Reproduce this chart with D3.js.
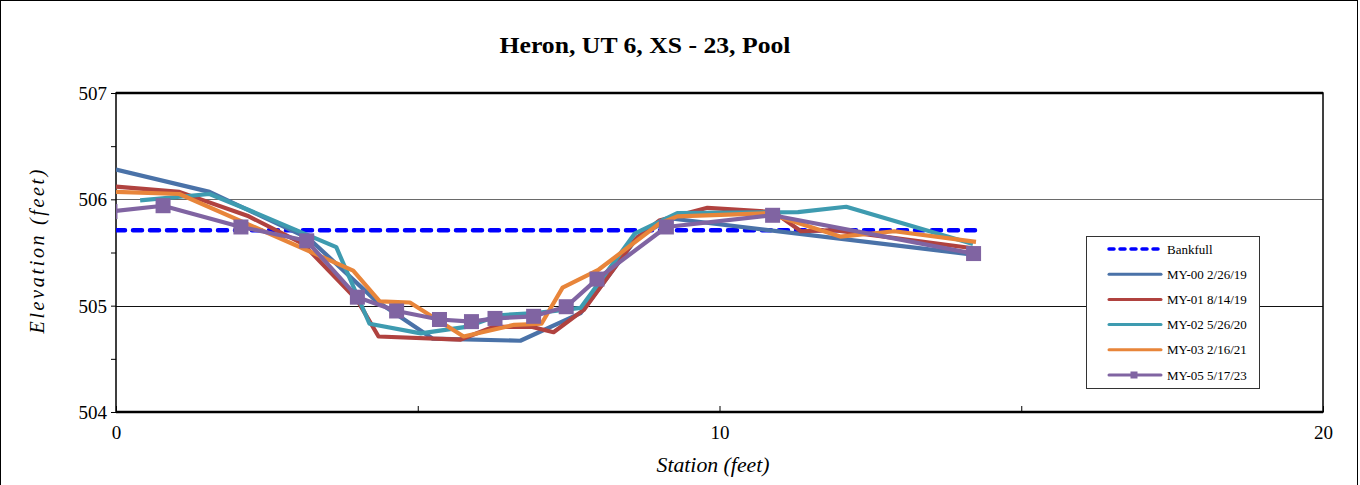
<!DOCTYPE html>
<html>
<head>
<meta charset="utf-8">
<script src="https://cdn.jsdelivr.net/npm/d3@7"></script>
<style>
  html, body { margin: 0; padding: 0; background: #fff; }
  svg { display: block; font-family: "Liberation Serif", "Times New Roman", serif; }
  svg text { font-family: "Liberation Serif", "Times New Roman", serif; }
</style>
</head>
<body>
<svg id="chart" width="1360" height="485"></svg>
<script>
// Cross-section survey: station (ft) vs elevation (ft)
const chartTitle = "Heron, UT 6, XS - 23, Pool";

const bankfullStation = [0, 14.25];
const bankfullElev = [505.71, 505.71];

const my00Station = [0, 1.55, 3.2, 4.3, 5.25, 6.7, 7.7, 8.65, 9.2, 14.2];
const my00Elev = [506.28, 506.07, 505.63, 505.05, 504.69, 504.67, 504.93, 505.65, 505.82, 505.48];

const my01Station = [0, 1.05, 2.2, 3.1, 4.0, 4.35, 5.7, 6.25, 6.9, 7.25, 7.75, 8.6, 9.0, 9.8, 10.9, 11.35, 11.9, 14.2];
const my01Elev = [506.12, 506.07, 505.84, 505.58, 505.05, 504.71, 504.68, 504.80, 504.80, 504.75, 504.96, 505.62, 505.80, 505.92, 505.88, 505.70, 505.71, 505.54];

const my02Station = [0.4, 1.55, 2.2, 3.65, 4.2, 5.05, 5.8, 6.35, 6.95, 7.7, 8.6, 9.3, 11.3, 12.1, 14.2];
const my02Elev = [505.99, 506.05, 505.90, 505.55, 504.83, 504.74, 504.80, 504.91, 504.93, 504.98, 505.68, 505.87, 505.88, 505.93, 505.58];

const my03Station = [0, 1.05, 3.93, 4.37, 4.87, 5.76, 6.6, 7.05, 7.4, 8.0, 9.0, 9.3, 10.8, 12.0, 12.9, 14.25];
const my03Elev = [506.07, 506.05, 505.33, 505.04, 505.03, 504.71, 504.82, 504.83, 505.17, 505.34, 505.77, 505.84, 505.87, 505.65, 505.70, 505.60];

const my05Station = [-0.1, 0.78, 2.07, 3.16, 4.0, 4.65, 5.36, 5.89, 6.28, 6.92, 7.46, 7.97, 9.12, 10.88, 14.21];
const my05Elev = [505.885, 505.94, 505.74, 505.61, 505.08, 504.95, 504.87, 504.85, 504.88, 504.90, 504.99, 505.25, 505.74, 505.85, 505.49];

const seriesNames = ["Bankfull", "MY-00 2/26/19", "MY-01 8/14/19", "MY-02 5/26/20", "MY-03 2/16/21", "MY-05 5/17/23"];
const seriesColors = ["#0000FF", "#4A72A8", "#B0423F", "#3E9BB0", "#E8853A", "#8064A2"];

const xTickValues = [0, 5, 10, 15, 20];
const xTickLabels = ["0", "", "10", "", "20"];
const yTickValues = [504, 505, 506, 507];
const yMinorTicks = [504, 504.5, 505, 505.5, 506, 506.5, 507];
const xAxisTitle = "Station (feet)";
const yAxisTitle = "Elevation (feet)";

const toPoints = (xs, ys) => xs.map((x, i) => ({ x, y: ys[i] }));
const series = [
  { name: seriesNames[0], color: seriesColors[0], pts: toPoints(bankfullStation, bankfullElev), dashed: true },
  { name: seriesNames[1], color: seriesColors[1], pts: toPoints(my00Station, my00Elev) },
  { name: seriesNames[2], color: seriesColors[2], pts: toPoints(my01Station, my01Elev) },
  { name: seriesNames[3], color: seriesColors[3], pts: toPoints(my02Station, my02Elev) },
  { name: seriesNames[4], color: seriesColors[4], pts: toPoints(my03Station, my03Elev) },
  { name: seriesNames[5], color: seriesColors[5], pts: toPoints(my05Station, my05Elev), markers: true }
];

const svg = d3.select("#chart");
const plot = { left: 116, right: 1323, top: 93, bottom: 412 };

const x = d3.scaleLinear().domain([0, 20]).range([plot.left, plot.right]);
const y = d3.scaleLinear().domain([504, 507]).range([plot.bottom, plot.top]);

// Outer chart frame
svg.append("rect")
  .attr("x", 0.5).attr("y", 0.5).attr("width", 1357).attr("height", 490)
  .attr("fill", "#fff").attr("stroke", "#000").attr("stroke-width", 1);

// Title
svg.append("text")
  .attr("x", 645).attr("y", 53)
  .attr("text-anchor", "middle")
  .attr("font-size", 24).attr("font-weight", "bold")
  .attr("textLength", 291).attr("lengthAdjust", "spacingAndGlyphs")
  .text(chartTitle);

// Horizontal gridlines
svg.append("g").selectAll("line")
  .data([505, 506]).join("line")
  .attr("x1", plot.left).attr("x2", plot.right)
  .attr("y1", d => Math.round(y(d)) + 0.5).attr("y2", d => Math.round(y(d)) + 0.5)
  .attr("stroke", (d) => d === 506 ? "#6a6a6a" : "#111").attr("stroke-width", 1.2);

// Y axis: minor ticks every 0.5 ft, labels on whole feet
const yAxis = d3.axisLeft(y).tickValues(yMinorTicks).tickSize(5).tickFormat(d => yTickValues.includes(d) ? String(d) : "");
const gy = svg.append("g").attr("transform", `translate(${plot.left},0)`).call(yAxis);
gy.attr("font-family", null);
gy.select(".domain").remove();
gy.selectAll(".tick line").attr("stroke", "#000").attr("stroke-width", 1);
gy.selectAll(".tick text").attr("font-size", 19).attr("fill", "#000").attr("x", -9).attr("dy", "0.35em");

// X axis: inward ticks at 5 ft intervals
const xAxis = d3.axisBottom(x).tickValues(xTickValues).tickSizeInner(-6).tickSizeOuter(0)
  .tickFormat((d, i) => xTickLabels[i]);
const gx = svg.append("g").attr("transform", `translate(0,${plot.bottom})`).call(xAxis);
gx.attr("font-family", null);
gx.select(".domain").remove();
gx.selectAll(".tick line").attr("stroke", "#000").attr("stroke-width", 1);
gx.selectAll(".tick text").attr("font-size", 19).attr("fill", "#000").attr("y", 14).attr("dy", "0.71em");

// Plot frame
svg.append("rect")
  .attr("x", plot.left).attr("y", plot.top)
  .attr("width", plot.right - plot.left).attr("height", plot.bottom - plot.top)
  .attr("fill", "none").attr("stroke", "#000").attr("stroke-width", 1.5);
svg.append("line").attr("x1", plot.left).attr("x2", plot.right).attr("y1", plot.top).attr("y2", plot.top)
  .attr("stroke", "#000").attr("stroke-width", 2.5);
svg.append("line").attr("x1", plot.left).attr("x2", plot.right).attr("y1", plot.bottom).attr("y2", plot.bottom)
  .attr("stroke", "#000").attr("stroke-width", 2.5);

// Axis titles
svg.append("text")
  .attr("transform", `translate(44,${(plot.top + plot.bottom) / 2 - 1}) rotate(-90)`)
  .attr("text-anchor", "middle").attr("font-size", 20).attr("font-style", "italic")
  .attr("textLength", 164).attr("lengthAdjust", "spacing")
  .text(yAxisTitle);
svg.append("text")
  .attr("x", 713).attr("y", 472)
  .attr("text-anchor", "middle").attr("font-size", 20).attr("font-style", "italic")
  .attr("textLength", 113).attr("lengthAdjust", "spacingAndGlyphs")
  .text(xAxisTitle);

// Clip series to the plotting area
svg.append("clipPath").attr("id", "plotClip")
  .append("rect").attr("x", plot.left).attr("y", plot.top)
  .attr("width", plot.right - plot.left).attr("height", plot.bottom - plot.top);

const line = d3.line().x(d => x(d.x)).y(d => y(d.y));
const gSeries = svg.append("g").attr("clip-path", "url(#plotClip)");

series.forEach(s => {
  gSeries.append("path")
    .datum(s.pts)
    .attr("d", line)
    .attr("fill", "none")
    .attr("stroke", s.color)
    .attr("stroke-width", s.dashed ? 4.5 : 4.2)
    .attr("stroke-linejoin", "round")
    .attr("stroke-linecap", s.dashed ? "round" : "butt")
    .attr("stroke-dasharray", s.dashed ? "9,8" : null);
  if (s.markers) {
    const m = 15;
    gSeries.append("g").selectAll("rect")
      .data(s.pts).join("rect")
      .attr("x", d => x(d.x) - m / 2).attr("y", d => y(d.y) - m / 2)
      .attr("width", m).attr("height", m)
      .attr("fill", s.color);
  }
});

// Legend
const legend = { x: 1086, y: 236, w: 173, h: 152 };
const gl = svg.append("g");
gl.append("rect")
  .attr("x", legend.x + 0.5).attr("y", legend.y + 0.5)
  .attr("width", legend.w).attr("height", legend.h)
  .attr("fill", "#fff").attr("stroke", "#333").attr("stroke-width", 1);
const rowY = d3.scalePoint().domain(seriesNames).range([legend.y + 13, legend.y + 139]);
series.forEach(s => {
  const yy = rowY(s.name);
  gl.append("line")
    .attr("x1", 1109).attr("x2", 1161).attr("y1", yy).attr("y2", yy)
    .attr("stroke", s.color).attr("stroke-width", s.dashed ? 3.5 : 3)
    .attr("stroke-linecap", "round")
    .attr("stroke-dasharray", s.dashed ? "5,6" : null);
  if (s.markers) {
    gl.append("rect").attr("x", 1134 - 3.5).attr("y", yy - 3.5).attr("width", 7).attr("height", 7).attr("fill", s.color);
  }
  gl.append("text")
    .attr("x", 1167).attr("y", yy).attr("dy", "0.35em")
    .attr("font-size", 13).attr("fill", "#000")
    .text(s.name);
});
</script>
</body>
</html>
